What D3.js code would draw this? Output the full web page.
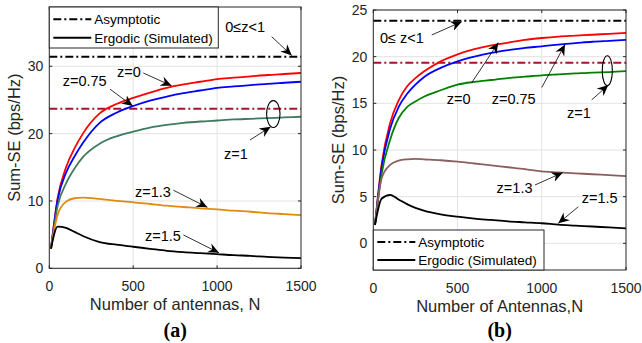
<!DOCTYPE html>
<html>
<head>
<meta charset="utf-8">
<script src="https://cdn.jsdelivr.net/npm/d3@7"></script>
<style>
    body { margin: 0; background: #fff; }
    text { font-family: "Liberation Sans", Arial, Helvetica, sans-serif; fill: #262626; }
    .tick-label { font-size: 14px; }
    .axis-label { font-size: 16.5px; }
    .legend-text { font-size: 13.5px; fill: #000; }
    .note { font-size: 14.5px; fill: #000; }
    .panel-title { font-family: "Liberation Serif", "Times New Roman", serif; font-weight: bold; font-size: 20px; fill: #000; }
</style>
</head>
<body>
<div id="chart"></div>
<script>
"use strict"

// ---- data ----
const xTicks = [0, 500, 1000, 1500]

// panel (a)
const antennasA = [10, 50, 100, 150, 200, 300, 400, 500, 600, 700, 800, 900, 1000, 1100, 1200, 1300, 1400, 1500]
const seA_z0   = [2.9, 10.5, 15.0, 17.8, 20.0, 23.0, 24.4, 25.3, 26.1, 26.8, 27.3, 27.7, 28.1, 28.3, 28.5, 28.7, 28.85, 29.0]
const seA_z075 = [2.9, 10.2, 14.2, 16.6, 18.6, 21.6, 23.1, 24.1, 24.9, 25.5, 26.0, 26.4, 26.8, 27.0, 27.2, 27.4, 27.55, 27.7]
const seA_z1   = [2.9, 9.3, 12.6, 14.8, 16.5, 18.5, 19.6, 20.3, 20.9, 21.3, 21.6, 21.8, 21.95, 22.1, 22.2, 22.3, 22.4, 22.5]
const seA_z13  = [2.9, 8.0, 9.9, 10.4, 10.5, 10.3, 10.0, 9.8, 9.55, 9.3, 9.1, 8.9, 8.75, 8.55, 8.4, 8.2, 8.05, 7.9]
const seA_z15  = [2.9, 6.2, 6.0, 5.4, 4.8, 3.9, 3.5, 3.2, 2.9, 2.6, 2.4, 2.25, 2.1, 1.95, 1.85, 1.7, 1.6, 1.5]
const asymA_low = 31.4   // 0 <= z < 1
const asymA_z1 = 23.7
const yTicksA = [0, 10, 20, 30]

// panel (b)
const antennasB = [10, 50, 100, 150, 200, 250, 300, 400, 500, 600, 700, 800, 900, 1000, 1100, 1200, 1300, 1400, 1500]
const seB_z0   = [1.96, 8.5, 12.9, 15.3, 16.8, 17.7, 18.4, 19.5, 20.25, 20.8, 21.2, 21.5, 21.8, 22.0, 22.15, 22.25, 22.35, 22.45, 22.55]
const seB_z075 = [1.96, 8.2, 12.3, 14.6, 16.0, 17.0, 17.8, 18.8, 19.5, 20.0, 20.4, 20.7, 20.95, 21.1, 21.3, 21.45, 21.6, 21.7, 21.8]
const seB_z1   = [1.96, 7.5, 11.1, 13.4, 14.6, 15.2, 15.7, 16.4, 17.0, 17.3, 17.5, 17.7, 17.85, 18.0, 18.1, 18.2, 18.3, 18.35, 18.45]
const seB_z13  = [1.96, 7.0, 8.4, 8.85, 9.0, 9.05, 9.0, 8.9, 8.75, 8.55, 8.35, 8.15, 7.95, 7.7, 7.6, 7.5, 7.4, 7.3, 7.2]
const seB_z15  = [1.96, 4.8, 5.2, 4.7, 4.2, 3.8, 3.5, 3.1, 2.85, 2.65, 2.5, 2.35, 2.25, 2.15, 2.0, 1.9, 1.8, 1.7, 1.6]
const asymB_low = 23.86
const asymB_z1 = 19.36
const yTicksB = [0, 5, 10, 15, 20, 25]

const W = 642, H = 343
const dashDot = "8,3,2,3"

const svg = d3.select("#chart").append("svg")
    .attr("width", W).attr("height", H)
    .attr("viewBox", `0 0 ${ W } ${ H }`)

svg.append("rect").attr("width", W).attr("height", H).attr("fill", "#fff")

// arrow head, matlab style
svg.append("defs").append("marker")
    .attr("id", "head")
    .attr("viewBox", "-11 -6 12 12")
    .attr("markerWidth", 12).attr("markerHeight", 12)
    .attr("markerUnits", "userSpaceOnUse")
    .attr("refX", 0).attr("refY", 0)
    .attr("orient", "auto")
    .append("path")
        .attr("d", "M0,0 L-11,-5 L-7.5,0 L-11,5 Z")
        .attr("fill", "#000")

function panel(cfg) {
    const f = cfg.frame
    const x = d3.scaleLinear().domain([0, 1500]).range([f.l, f.r])
    const y = d3.scaleLinear().domain(cfg.yDomain).range([f.b, f.t])
    const g = svg.append("g")

    // grid
    g.selectAll(".gx").data(xTicks.slice(1, -1)).enter().append("line")
        .attr("x1", d => x(d)).attr("x2", d => x(d))
        .attr("y1", f.t).attr("y2", f.b)
        .attr("stroke", "#e3e3e3").attr("stroke-width", 1)
    g.selectAll(".gy").data(cfg.yTicks).enter().append("line")
        .attr("x1", f.l).attr("x2", f.r)
        .attr("y1", d => y(d)).attr("y2", d => y(d))
        .attr("stroke", "#e3e3e3").attr("stroke-width", 1)

    // asymptotic lines
    const asym = [
        { v: cfg.asymLow, c: "#000" },
        { v: cfg.asymZ1, c: "#a2142f" },
    ]
    g.selectAll(".asym").data(asym).enter().append("line")
        .attr("x1", f.l).attr("x2", f.r)
        .attr("y1", d => y(d.v)).attr("y2", d => y(d.v))
        .attr("stroke", d => d.c).attr("stroke-width", 2)
        .attr("stroke-dasharray", dashDot)

    // simulated curves
    const line = d3.line()
        .x((d, i) => x(cfg.n[i]))
        .y(d => y(d))
        .curve(d3.curveMonotoneX)
    g.selectAll(".curve").data(cfg.series).enter().append("path")
        .attr("d", d => line(d.values))
        .attr("fill", "none")
        .attr("stroke", d => d.color)
        .attr("stroke-width", 1.8)

    // box + axes
    g.append("rect")
        .attr("x", f.l).attr("y", f.t)
        .attr("width", f.r - f.l).attr("height", f.b - f.t)
        .attr("fill", "none").attr("stroke", "#262626").attr("stroke-width", 1)

    const tk = 3
    g.selectAll(".tx").data(xTicks).enter().append("path")
        .attr("d", d => `M${ x(d) },${ f.b }v${ -tk }M${ x(d) },${ f.t }v${ tk }`)
        .attr("stroke", "#262626")
    g.selectAll(".ty").data(cfg.yTicks).enter().append("path")
        .attr("d", d => `M${ f.l },${ y(d) }h${ tk }M${ f.r },${ y(d) }h${ -tk }`)
        .attr("stroke", "#262626")

    g.selectAll(".xl").data(xTicks).enter().append("text")
        .attr("class", "tick-label")
        .attr("text-anchor", "middle")
        .attr("x", d => x(d)).attr("y", f.b + 23)
        .text(d => d)
    g.selectAll(".yl").data(cfg.yTicks).enter().append("text")
        .attr("class", "tick-label")
        .attr("text-anchor", "end")
        .attr("x", f.l - 6).attr("y", d => y(d) + 5)
        .text(d => d)

    g.append("text")
        .attr("class", "axis-label")
        .attr("text-anchor", "middle")
        .attr("x", (f.l + f.r) / 2).attr("y", f.b + 42)
        .text(cfg.xLabel)
    g.append("text")
        .attr("class", "axis-label")
        .attr("text-anchor", "middle")
        .attr("transform", `translate(${ f.l - 29 }, ${ (f.t + f.b) / 2 }) rotate(-90)`)
        .text("Sum-SE (bps/Hz)")

    g.append("text")
        .attr("class", "panel-title")
        .attr("text-anchor", "middle")
        .attr("x", (f.l + f.r) / 2).attr("y", 337)
        .text(cfg.title)

    // annotations (positions given in data units)
    cfg.notes.forEach(n => {
        g.append("text").attr("class", "note")
            .attr("x", x(n.t[0])).attr("y", y(n.t[1]))
            .text(n.label)
        if (n.a) {
            g.append("line")
                .attr("x1", x(n.a[0])).attr("y1", y(n.a[1]))
                .attr("x2", x(n.a[2])).attr("y2", y(n.a[3]))
                .attr("stroke", "#000").attr("stroke-width", 0.8)
                .attr("marker-end", "url(#head)")
        }
    })
    const e = cfg.ellipse
    g.append("ellipse")
        .attr("cx", x(e.n)).attr("cy", y(e.v))
        .attr("rx", x(e.n + e.dn) - x(e.n))
        .attr("ry", y(e.v) - y(e.v + e.dv))
        .attr("fill", "none").attr("stroke", "#000").attr("stroke-width", 1.1)

    // legend
    const L = cfg.legend
    const lg = g.append("g").attr("transform", `translate(${ L.x }, ${ L.y })`)
    lg.append("rect")
        .attr("width", L.w).attr("height", L.h)
        .attr("fill", "#fff").attr("stroke", "#262626").attr("stroke-width", 1)
    const items = [
        { label: "Asymptotic", dash: dashDot },
        { label: "Ergodic (Simulated)", dash: null },
    ]
    items.forEach((it, i) => {
        const cy = L.h * (i === 0 ? 0.3 : 0.75)
        lg.append("line")
            .attr("x1", 4).attr("x2", 42)
            .attr("y1", cy).attr("y2", cy)
            .attr("stroke", "#000").attr("stroke-width", 2)
            .attr("stroke-dasharray", it.dash)
        lg.append("text").attr("class", "legend-text")
            .attr("x", 45).attr("y", cy + 5)
            .text(it.label)
    })
}

panel({
    frame: { l: 49.3, r: 301, t: 7, b: 268.3 },
    yDomain: [0, 38.8],
    yTicks: yTicksA,
    n: antennasA,
    series: [
        { values: seA_z0, color: "#ff0000" },
        { values: seA_z075, color: "#0000ff" },
        { values: seA_z1, color: "#3f7a5f" },
        { values: seA_z13, color: "#e08a10" },
        { values: seA_z15, color: "#000000" },
    ],
    asymLow: asymA_low,
    asymZ1: asymA_z1,
    xLabel: "Number of antennas, N",
    title: "(a)",
    legend: { x: 49.3, y: 7, w: 169, h: 41 },
    notes: [
        { label: "0\u2264z<1", t: [1048, 35.1], a: [1325, 34.4, 1445, 31.6] },
        { label: "z=0", t: [403, 28.4], a: [560, 29.0, 729, 27.1] },
        { label: "z=0.75", t: [80, 27.1], a: [362, 26.6, 497, 24.1] },
        { label: "z=1", t: [1041, 16.2], a: [1196, 19.05, 1319, 21.0] },
        { label: "z=1.3", t: [511, 10.6], a: [739, 11.6, 942, 9.05] },
        { label: "z=1.5", t: [570, 4.05], a: [799, 4.95, 1011, 2.3] },
    ],
    ellipse: { n: 1335, v: 22.9, dn: 40, dv: 2.0 },
})

panel({
    frame: { l: 373.3, r: 626, t: 10, b: 270 },
    yDomain: [-2.86, 25],
    yTicks: yTicksB,
    n: antennasB,
    series: [
        { values: seB_z0, color: "#ff0000" },
        { values: seB_z075, color: "#0000ff" },
        { values: seB_z1, color: "#008000" },
        { values: seB_z13, color: "#8b5f5f" },
        { values: seB_z15, color: "#000000" },
    ],
    asymLow: asymB_low,
    asymZ1: asymB_z1,
    xLabel: "Number of Antennas,N",
    title: "(b)",
    legend: { x: 373.3, y: 230, w: 170.7, h: 40 },
    notes: [
        { label: "0\u2264 z<1", t: [40, 21.46], a: [347, 22.32, 525, 23.75] },
        { label: "z=0", t: [436, 14.93], a: [584, 17.2, 742, 21.5] },
        { label: "z=0.75", t: [703, 14.93], a: [1000, 16.7, 1138, 21.3] },
        { label: "z=1", t: [1150, 13.4], a: [1296, 15.36, 1395, 16.96] },
        { label: "z=1.3", t: [732, 5.39], a: [960, 6.25, 1124, 7.57] },
        { label: "z=1.5", t: [1237, 4.32], a: [1217, 3.92, 1098, 2.14] },
    ],
    ellipse: { n: 1389, v: 18.5, dn: 30, dv: 1.6 },
})
</script>
</body>
</html>
